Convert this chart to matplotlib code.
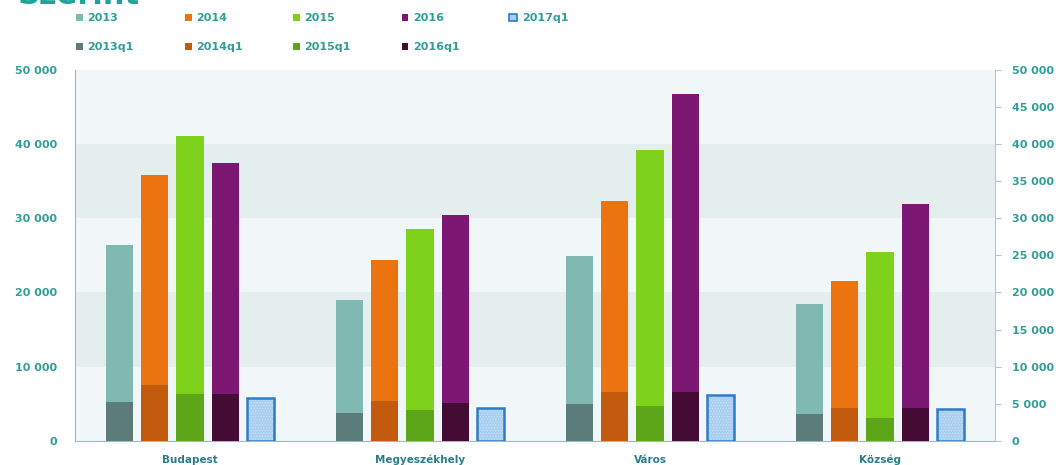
import matplotlib.pyplot as plt
import numpy as np
from matplotlib.patches import Rectangle

plt.rcParams["font.family"] = ["Liberation Sans Narrow", "DejaVu Sans"]
plt.rcParams["hatch.linewidth"] = 0.6

categories = ["Budapest", "Megyeszékhely", "Város", "Község"]

years = ["2013", "2014", "2015", "2016"]
annual = [
    [26400, 19000, 24900, 18400],  # 2013
    [35800, 24400, 32300, 21600],  # 2014
    [41000, 28500, 39200, 25500],  # 2015
    [37400, 30400, 46700, 31900],  # 2016
]
quarters = ["2013q1", "2014q1", "2015q1", "2016q1"]
first_quarter = [
    [5300, 3800, 5000, 3600],  # 2013q1
    [7500, 5400, 6600, 4400],  # 2014q1
    [6300, 4200, 4750, 3050],  # 2015q1
    [6300, 5050, 6550, 4400],  # 2016q1
]
q1_2017 = [5800, 4500, 6200, 4250]

left_ticks = [0, 10000, 20000, 30000, 40000, 50000]
right_ticks = list(range(0, 50001, 5000))

annual_colors = ["#80b9b2", "#ec7410", "#7fd21c", "#7c1873"]
quarter_colors = ["#5b7c79", "#c25b0e", "#5ea619", "#440b35"]
teal = "#2f9e97"
label_teal = "#2b7d8c"


def fmt(v):
    return f"{v:,}".replace(",", " ")


fig = plt.figure(figsize=(10.58, 4.65), dpi=100)
ax = fig.add_axes([0.0709, 0.0516, 0.8696, 0.7989])

x = np.arange(len(categories))
step = 0.153
width = 0.118

# horizontal background bands
ax.set_facecolor("#f1f6f8")
for lo in (10000, 30000):
    ax.axhspan(lo, lo + 10000, color="#e4eeef", zorder=0, lw=0)

for i in range(4):
    pos = x + (i - 2) * step
    ax.bar(pos, annual[i], width, color=annual_colors[i], zorder=2,
           label=years[i])
    ax.bar(pos, first_quarter[i], width, color=quarter_colors[i], zorder=3,
           label=quarters[i])

# 2017q1: dotted light fill with a blue outline on top
ax.bar(x + 2 * step, q1_2017, width, facecolor="#a9cff0", edgecolor="#c9e0f5",
       linewidth=0, hatch="......", zorder=3)
ax.bar(x + 2 * step, q1_2017, width, facecolor="none", edgecolor="#2d7cc7",
       linewidth=1.8, zorder=4, label="2017q1")

ax.set_xlim(-0.5, 3.5)
ax.set_ylim(0, 50000)
ax.set_xticks(x)
ax.set_xticklabels(categories, fontsize=7.5, fontweight="bold",
                   color=label_teal)
ax.tick_params(axis="x", length=0, pad=10)
ax.set_yticks(left_ticks)
ax.set_yticklabels([fmt(v) for v in left_ticks], fontsize=8,
                   fontweight="bold", color=teal)
ax.tick_params(axis="y", length=0, pad=13)

for side in ("top", "right"):
    ax.spines[side].set_visible(False)
ax.spines["left"].set_color("#8fbfbf")
ax.spines["bottom"].set_color("#9bbcc0")

ax2 = ax.twinx()
ax2.set_ylim(0, 50000)
ax2.set_yticks(right_ticks)
ax2.set_yticklabels([fmt(v) for v in right_ticks], fontsize=8,
                    fontweight="bold", color=teal)
ax2.tick_params(axis="y", length=4, color="#b5c8c8", pad=8)
for side in ("top", "left", "bottom"):
    ax2.spines[side].set_visible(False)
ax2.spines["right"].set_color("#b5c8c8")

# legend in two rows above the plot
entries = [(years[i], annual_colors[i], quarters[i], quarter_colors[i])
           for i in range(4)]
col_x = [0.0718, 0.1745, 0.2765, 0.3795, 0.4815]
rows_y = [0.962, 0.9]
for c, (y_lab, y_col, q_lab, q_col) in enumerate(entries):
    for r, (lab, col) in enumerate(((y_lab, y_col), (q_lab, q_col))):
        fig.patches.append(Rectangle((col_x[c], rows_y[r] - 0.008), 0.0066,
                                     0.015, transform=fig.transFigure,
                                     facecolor=col, edgecolor="none"))
        fig.text(col_x[c] + 0.011, rows_y[r], lab, fontsize=8,
                 fontweight="bold", color=teal, va="center")
fig.patches.append(Rectangle((col_x[4], rows_y[0] - 0.008), 0.0075, 0.016,
                             transform=fig.transFigure, facecolor="#a9cff0",
                             edgecolor="#2d7cc7", linewidth=1.2))
fig.text(col_x[4] + 0.012, rows_y[0], "2017q1", fontsize=8,
         fontweight="bold", color=teal, va="center")

fig.text(0.017, 0.992, "Szerint", fontsize=22, fontweight="bold",
         color="#1fa39b", va="baseline", ha="left")

fig.savefig("out.png", dpi=100)
